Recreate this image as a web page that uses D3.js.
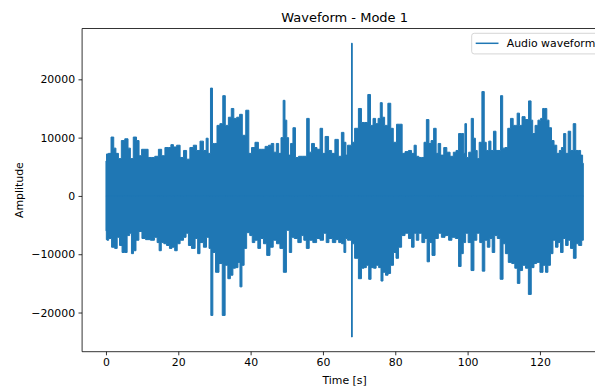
<!DOCTYPE html>
<html>
<head>
<meta charset="utf-8">
<script src="https://cdn.jsdelivr.net/npm/d3@7"></script>
<style>
  html, body { margin: 0; padding: 0; background: #fff; }
  svg { display: block; font-family: "DejaVu Sans", sans-serif; }
</style>
</head>
<body>
<svg id="chart" width="595" height="387"></svg>
<script>
// ---- Data (envelope of the audio waveform) ----
const title = "Waveform - Mode 1";
const xLabel = "Time [s]";
const yLabel = "Amplitude";
const seriesName = "Audio waveform";
const xTicks = [0, 20, 40, 60, 80, 100, 120];
const yTicks = [-20000, -10000, 0, 10000, 20000];

// upper envelope: time (s) and positive peak amplitude
const upperT = [0,0.3,1.0,1.8,2.5,3.0,3.9,4.6,5.8,6.4,7.1,8.0,8.9,9.4,10.3,11.3,12.0,13.0,14.0,15.0,15.8,16.8,17.7,18.2,19.1,20.0,21.0,21.9,22.7,23.7,24.6,25.5,26.5,27.4,28.0,28.5,29.3,29.6,30.4,31.0,32.0,32.6,33.4,34.3,35.0,35.7,36.6,37.3,38.1,39.2,39.8,40.7,41.7,42.6,43.5,44.5,45.4,46.0,46.8,47.4,48.1,48.7,49.3,49.7,50.3,50.7,51.4,52.0,52.8,53.7,55.0,56.0,56.4,57.3,58.0,58.7,59.7,60.1,61.1,62.0,62.8,63.8,64.7,65.5,66.1,66.6,67.0,67.8,68.0,68.2,69.3,70.3,71.0,72.0,72.8,73.5,74.2,74.9,75.6,76.1,76.7,77.4,78.5,79.0,79.9,80.8,81.6,82.2,83.2,84.1,84.9,85.5,86.1,86.9,87.7,88.2,89.0,89.6,90.2,91.0,91.6,92.1,93.0,93.8,94.7,95.6,96.5,97.1,97.9,98.8,99.0,99.5,99.9,100.7,101.3,101.9,102.4,102.9,103.5,104.4,104.8,105.5,106.2,106.7,107.6,108.1,108.7,109.5,109.9,110.8,111.4,112.3,112.9,113.4,114.0,114.7,115.4,116.4,117.3,117.8,118.2,119.1,119.8,120.6,120.9,121.6,122.2,122.8,123.6,124.2,125.1,125.6,126.3,126.8,127.5,128.1,128.9,129.5,130.3,130.9,131.6,132.0];
const upperV = [6000,7200,7300,10100,8200,7300,6400,9500,9800,8200,6400,10100,9500,6900,8000,8000,6600,6600,6800,8000,6900,8300,8300,8800,8400,8700,6600,7800,6300,8300,8700,7800,9400,7800,9900,7300,18500,9000,9000,12100,12400,17200,12100,13500,15000,13300,13500,14000,10400,14700,7300,8300,9200,8000,8000,8500,8700,9000,7500,9000,7300,10000,16400,13000,10000,7000,9000,11700,6600,6800,6800,13300,7500,9000,8300,8000,11600,7300,10200,7800,7300,9700,6800,10900,9200,7000,8700,8700,26200,9200,11600,15000,12600,12600,17400,12100,13300,12400,13300,16000,13500,12100,15900,11600,9200,12300,12300,7300,7600,7800,7300,8700,6800,6600,6600,9200,13100,9000,9500,11600,7300,9000,7000,8300,7500,6800,7500,7800,10700,10700,7300,12400,6600,7500,13300,9900,7800,6400,9200,17900,9200,7800,9400,7800,11100,7800,7800,17200,8200,8300,11600,13300,12100,12100,14200,12100,13600,13100,16300,13000,10700,12100,13000,13300,15000,15000,13000,11700,9500,8700,7300,7800,8300,10700,7300,11100,7800,12400,7800,7800,7000,5600];

// lower envelope: time (s) and negative peak amplitude
const lowerT = [0,0.2,0.4,1.1,2.0,2.8,3.4,4.1,4.8,5.5,6.2,6.9,7.2,8.0,8.6,9.6,10.3,11.6,13.0,13.8,14.5,14.9,15.7,16.3,17.2,17.9,18.6,19.4,20.0,21.0,21.9,22.4,23.2,24.1,25.2,25.5,26.5,27.4,28.2,28.8,29.2,29.9,30.7,31.8,32.5,33.4,34.0,34.8,35.4,36.2,36.8,37.3,37.9,38.5,39.3,40.2,40.7,41.6,42.4,43.1,44.0,44.9,45.8,46.7,47.6,48.6,49.5,50.3,51.1,51.6,52.5,53.6,54.4,55.0,55.8,56.6,57.8,58.7,59.7,60.6,61.2,62.1,63.1,64.0,64.7,65.6,66.0,66.6,67.0,67.8,68.0,68.2,69.3,70.3,71.0,71.7,72.3,73.0,73.6,74.4,75.0,75.8,76.3,76.9,77.7,78.3,79.1,79.9,80.5,81.3,82.2,83.2,84.1,84.9,85.5,86.1,86.9,87.8,88.5,89.1,89.8,90.5,91.5,92.3,93.2,94.3,95.2,96.1,97.1,97.9,98.5,99.1,99.8,100.5,101.4,102.1,103.0,103.7,104.4,105.1,105.8,106.5,107.1,107.9,108.5,109.5,110.1,110.8,111.7,112.7,113.4,114.1,114.8,115.6,116.4,117.2,118.0,118.7,119.5,120.5,121.2,121.9,122.5,123.3,123.9,124.7,125.3,126.1,126.7,127.5,128.1,128.8,129.7,130.3,131.1,132.0];
const lowerV = [-6000,-7500,-7600,-7300,-8800,-9000,-7100,-8500,-9700,-9700,-6800,-6400,-9900,-9400,-7600,-6100,-7300,-7500,-7600,-7100,-8000,-9400,-8000,-8200,-8500,-9000,-8800,-9400,-8200,-7600,-7100,-6400,-8500,-9000,-7300,-9900,-8000,-8800,-7100,-9000,-20500,-9700,-13100,-11600,-20500,-11900,-14200,-13600,-12400,-12300,-11400,-15600,-11900,-9000,-6300,-6800,-8000,-7600,-9000,-7300,-8200,-10200,-8800,-7600,-8200,-9000,-13100,-5900,-9700,-7100,-7300,-8000,-6800,-7600,-9000,-7600,-8000,-7300,-7600,-6400,-8000,-7300,-8000,-7500,-8000,-8200,-9700,-7300,-7600,-7600,-24200,-8200,-10700,-14200,-12400,-12300,-11900,-14300,-12300,-12400,-11900,-12300,-14600,-13100,-13600,-13300,-11900,-9700,-10700,-8800,-6800,-6400,-7300,-8800,-6400,-7600,-6400,-8000,-7300,-11300,-8000,-10200,-7300,-6400,-7100,-6800,-7600,-7100,-7300,-12100,-9900,-8000,-6400,-8000,-12800,-7600,-6400,-8000,-12900,-7600,-8800,-7300,-9700,-6800,-7300,-14300,-8200,-9900,-11400,-11600,-12400,-15000,-12800,-11900,-12400,-16900,-12300,-11600,-11400,-13100,-11900,-13100,-11900,-9900,-7600,-8800,-8000,-9700,-7300,-8500,-7600,-9000,-10700,-8200,-8500,-7600];

// ---- Layout ----
const W = 595, H = 387;
const axL = 82.1, axT = 28.5, axW = 525.1, axB = 351.7;
const color = "#1f77b4";
const fs = 10.9;

const svg = d3.select("#chart");

const upper = upperT.map((t, i) => ({t, v: upperV[i]}));
const lower = lowerT.map((t, i) => ({t, v: lowerV[i]}));

const tExt = d3.extent(upperT.concat(lowerT));
const vExt = [d3.min(lowerV), d3.max(upperV)];
const tPad = (tExt[1] - tExt[0]) * 0.05;
const vPad = (vExt[1] - vExt[0]) * 0.05;

const x = d3.scaleLinear().domain([tExt[0] - tPad, tExt[1] + tPad]).range([axL, axL + axW]);
const y = d3.scaleLinear().domain([vExt[0] - vPad, vExt[1] + vPad]).range([axB, axT]);

svg.append("defs").append("clipPath").attr("id", "plotclip")
  .append("rect").attr("x", axL).attr("y", axT).attr("width", axW).attr("height", axB - axT);

const g = svg.append("g").attr("clip-path", "url(#plotclip)");

const area = d3.area().x(d => x(d.t)).y0(y(0)).y1(d => y(d.v)).curve(d3.curveStep);

g.append("path").datum(upper).attr("d", area)
  .attr("fill", color).attr("stroke", color).attr("stroke-width", 1).attr("stroke-linejoin", "miter");
g.append("path").datum(lower).attr("d", area)
  .attr("fill", color).attr("stroke", color).attr("stroke-width", 1).attr("stroke-linejoin", "miter");

// ---- Axes ----
const fmt = d => d < 0 ? "\u2212" + Math.abs(d) : String(d);
const xAxis = svg.append("g").attr("transform", `translate(0,${axB})`)
  .call(d3.axisBottom(x).tickValues(xTicks).tickSize(3.6).tickPadding(3.4).tickFormat(d => d));
const yAxis = svg.append("g").attr("transform", `translate(${axL},0)`)
  .call(d3.axisLeft(y).tickValues(yTicks).tickSize(3.6).tickPadding(3.4).tickFormat(fmt));

[xAxis, yAxis].forEach(a => {
  a.select(".domain").remove();
  a.selectAll(".tick line").attr("stroke", "#000").attr("stroke-width", 0.8);
  a.selectAll(".tick text").attr("fill", "#000").style("font-size", fs + "px")
    .style("font-family", "DejaVu Sans, sans-serif");
});

// spines (right spine lies beyond the canvas edge)
const xR = axL + axW;
const spine = (x1, y1, x2, y2) => svg.append("line")
  .attr("x1", x1).attr("y1", y1).attr("x2", x2).attr("y2", y2)
  .attr("stroke", "#000").attr("stroke-width", 0.8);
spine(axL, axT, axL, axB);
spine(axL, axB, xR, axB);
spine(axL, axT, xR, axT);
spine(xR, axT, xR, axB);

// ---- Labels ----
svg.append("text").attr("x", axL + axW / 2).attr("y", 22.3).attr("text-anchor", "middle")
  .style("font-size", "13px").attr("fill", "#000").text(title);
svg.append("text").attr("x", axL + axW / 2).attr("y", 383.5).attr("text-anchor", "middle")
  .style("font-size", fs + "px").attr("fill", "#000").text(xLabel);
svg.append("text").attr("transform", `translate(22.8,${(axT + axB) / 2}) rotate(-90)`)
  .attr("text-anchor", "middle").style("font-size", fs + "px").attr("fill", "#000").text(yLabel);

// ---- Legend ----
const leg = svg.append("g").attr("transform", "translate(471.7,33.3)");
leg.append("rect").attr("width", 140).attr("height", 20.6).attr("rx", 2.5)
  .attr("fill", "#fff").attr("fill-opacity", 0.8).attr("stroke", "#ccc").attr("stroke-width", 0.8);
leg.append("line").attr("x1", 4).attr("x2", 26.8).attr("y1", 10).attr("y2", 10)
  .attr("stroke", color).attr("stroke-width", 1.5);
leg.append("text").attr("x", 35).attr("y", 14).style("font-size", fs + "px").attr("fill", "#000")
  .text(seriesName);
</script>
</body>
</html>
